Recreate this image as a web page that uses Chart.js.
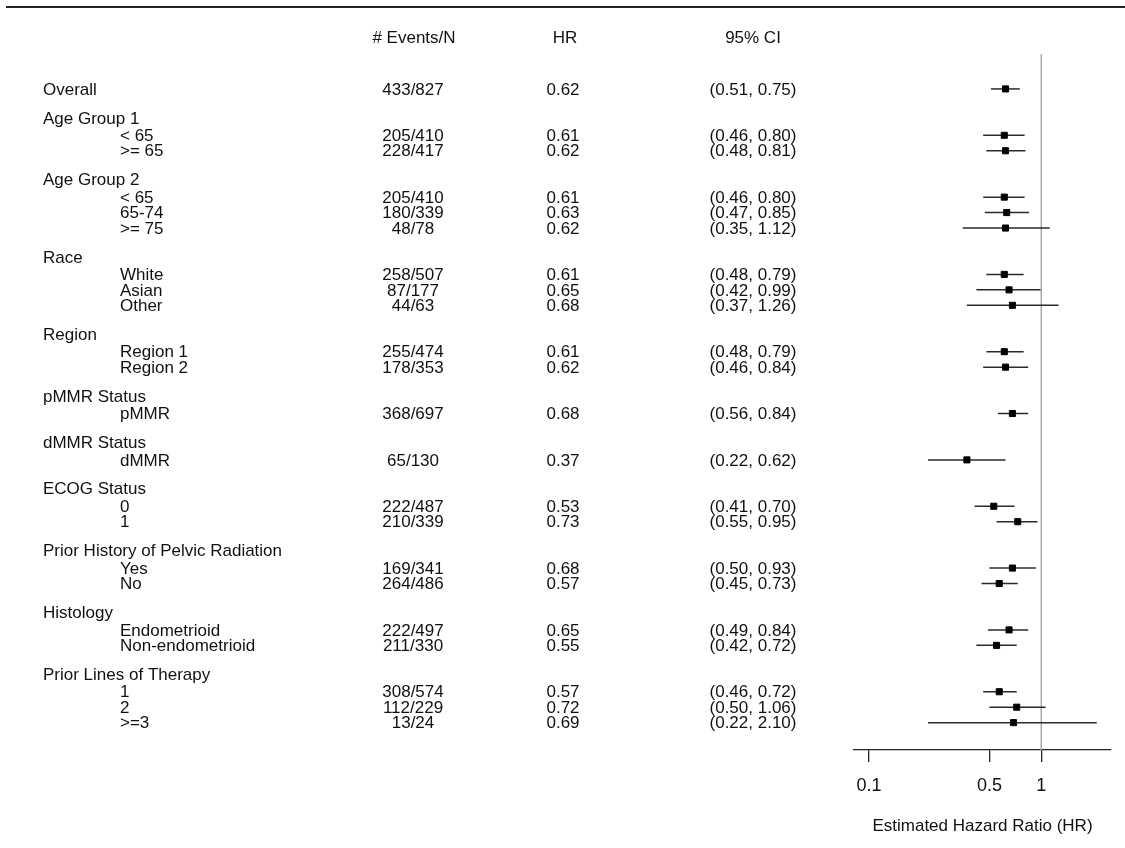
<!DOCTYPE html>
<html>
<head>
<meta charset="utf-8">
<title>Forest plot</title>
<script src="https://cdn.jsdelivr.net/npm/chart.js@4/dist/chart.umd.min.js"></script>
<style>
  html, body { margin: 0; padding: 0; background: #fff; }
  #wrap { position: absolute; left: 0; top: 0; width: 1125px; height: 848px; }
</style>
</head>
<body>
<div id="wrap"><canvas id="forest" width="1125" height="848"></canvas></div>
<script>
// Datos del forest plot
const groupNames = ['Overall', 'Age Group 1', 'Age Group 2', 'Race', 'Region', 'pMMR Status',
    'dMMR Status', 'ECOG Status', 'Prior History of Pelvic Radiation', 'Histology', 'Prior Lines of Therapy'];

const rowNames = ['Overall', '< 65', '>= 65', '< 65', '65-74', '>= 75', 'White', 'Asian', 'Other',
    'Region 1', 'Region 2', 'pMMR', 'dMMR', '0', '1', 'Yes', 'No', 'Endometrioid', 'Non-endometrioid',
    '1', '2', '>=3'];
const rowGroup = [0, 1, 1, 2, 2, 2, 3, 3, 3, 4, 4, 5, 6, 7, 7, 8, 8, 9, 9, 10, 10, 10];

const eventsN = ['433/827', '205/410', '228/417', '205/410', '180/339', '48/78', '258/507', '87/177', '44/63',
    '255/474', '178/353', '368/697', '65/130', '222/487', '210/339', '169/341', '264/486', '222/497', '211/330',
    '308/574', '112/229', '13/24'];
const hrValues = [0.62, 0.61, 0.62, 0.61, 0.63, 0.62, 0.61, 0.65, 0.68, 0.61, 0.62, 0.68, 0.37, 0.53, 0.73,
    0.68, 0.57, 0.65, 0.55, 0.57, 0.72, 0.69];
const ciLow = [0.51, 0.46, 0.48, 0.46, 0.47, 0.35, 0.48, 0.42, 0.37, 0.48, 0.46, 0.56, 0.22, 0.41, 0.55,
    0.50, 0.45, 0.49, 0.42, 0.46, 0.50, 0.22];
const ciHigh = [0.75, 0.80, 0.81, 0.80, 0.85, 1.12, 0.79, 0.99, 1.26, 0.79, 0.84, 0.84, 0.62, 0.70, 0.95,
    0.93, 0.73, 0.84, 0.72, 0.72, 1.06, 2.10];

const xTicks = [0.1, 0.5, 1];
const refValue = 1;
const columnHeaders = ['# Events/N', 'HR', '95% CI'];
const xTitle = 'Estimated Hazard Ratio (HR)';

const FONT = '"Liberation Sans", Arial, Helvetica, sans-serif';

// Posición vertical (índice de fila) de cada estimación y de cada cabecera de grupo
const rowIndex = [];
const headerRows = [];
let r = -1;
let lastGroup = -1;
rowGroup.forEach(function(g) {
    if (g !== lastGroup) {
        lastGroup = g;
        if (g === 0) {
            r = 0;
            rowIndex.push(r);
            return;
        }
        r += 2;
        headerRows.push({ name: groupNames[g], row: r });
    }
    r += 1;
    rowIndex.push(r);
});

// Un dataset por intervalo de confianza
const ciDatasets = rowIndex.map(function(row, i) {
    return {
        type: 'line',
        data: [{ x: ciLow[i], y: row }, { x: ciHigh[i], y: row }],
        borderColor: '#2a2a2a',
        borderWidth: 1.5,
        pointRadius: 0,
        order: 2
    };
});

const pointDataset = {
    type: 'scatter',
    data: rowIndex.map(function(row, i) { return { x: hrValues[i], y: row }; }),
    pointStyle: 'rect',
    pointRadius: 4.3,
    backgroundColor: '#000',
    borderColor: '#000',
    borderWidth: 1,
    order: 1
};

// Textos de la tabla y líneas auxiliares
const forestText = {
    id: 'forestText',
    beforeDatasetsDraw: function(chart) {
        const ctx = chart.ctx;
        const xs = chart.scales.x;
        const area = chart.chartArea;
        const px = xs.getPixelForValue(refValue);
        ctx.save();
        ctx.strokeStyle = '#aaa';
        ctx.lineWidth = 1.5;
        ctx.beginPath();
        ctx.moveTo(px, area.top);
        ctx.lineTo(px, area.bottom);
        ctx.stroke();
        ctx.restore();
    },
    afterDraw: function(chart) {
        const ctx = chart.ctx;
        const ys = chart.scales.y;
        ctx.save();
        // línea superior
        ctx.strokeStyle = '#222';
        ctx.lineWidth = 2;
        ctx.beginPath();
        ctx.moveTo(6, 7);
        ctx.lineTo(1125, 7);
        ctx.stroke();

        ctx.fillStyle = '#111';
        ctx.font = '17px ' + FONT;
        ctx.textBaseline = 'middle';
        ctx.textAlign = 'center';
        ctx.fillText(columnHeaders[0], 414, 38);
        ctx.fillText(columnHeaders[1], 565, 38);
        ctx.fillText(columnHeaders[2], 753, 38);

        headerRows.forEach(function(h) {
            ctx.textAlign = 'left';
            ctx.fillText(h.name, 43, ys.getPixelForValue(h.row) - 1);
        });

        rowIndex.forEach(function(row, i) {
            const y = ys.getPixelForValue(row) + 1;
            ctx.textAlign = 'left';
            ctx.fillText(rowNames[i], rowGroup[i] === 0 ? 43 : 120, y);
            ctx.textAlign = 'center';
            ctx.fillText(eventsN[i], 413, y);
            ctx.fillText(hrValues[i].toFixed(2), 563, y);
            ctx.fillText('(' + ciLow[i].toFixed(2) + ', ' + ciHigh[i].toFixed(2) + ')', 753, y);
        });
        ctx.restore();
    }
};

const chart = new Chart(document.getElementById('forest').getContext('2d'), {
    data: { datasets: ciDatasets.concat([pointDataset]) },
    options: {
        responsive: false,
        animation: false,
        devicePixelRatio: 1,
        layout: { padding: { left: 854, right: 14, top: 54, bottom: 0 } },
        plugins: {
            legend: { display: false },
            tooltip: { enabled: false }
        },
        scales: {
            x: {
                type: 'logarithmic',
                position: 'bottom',
                min: 0.0818,
                max: 2.54,
                afterBuildTicks: function(scale) {
                    scale.ticks = xTicks.map(function(v) { return { value: v }; });
                },
                afterFit: function(scale) { scale.height = 98; },
                grid: { drawOnChartArea: false, drawTicks: true, tickLength: 12, color: '#222', lineWidth: 1.3 },
                border: { display: true, color: '#222', width: 1.3 },
                ticks: {
                    font: { family: FONT, size: 18 },
                    color: '#111',
                    padding: 13,
                    autoSkip: false,
                    maxRotation: 0,
                    callback: function(v) { return String(v); }
                },
                title: {
                    display: true,
                    text: xTitle,
                    font: { family: FONT, size: 17 },
                    color: '#111',
                    padding: { top: 0, bottom: 11 }
                }
            },
            y: {
                type: 'linear',
                min: -2.26,
                max: 42.77,
                reverse: true,
                display: false
            }
        }
    },
    plugins: [forestText]
});
</script>
</body>
</html>
